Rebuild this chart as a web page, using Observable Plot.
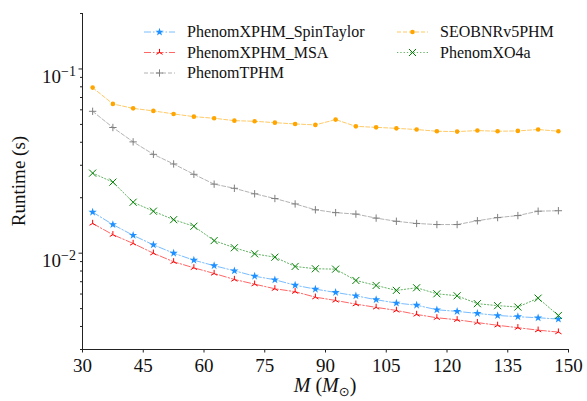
<!DOCTYPE html>
<html><head><meta charset="utf-8">
<script src="https://cdn.jsdelivr.net/npm/d3@7"></script>
<script src="https://cdn.jsdelivr.net/npm/@observablehq/plot@0.6"></script>
<style>
body{margin:0;background:#fff}
#chart{position:relative;width:587px;height:401px}
#chart svg, #chart svg text, #chart svg tspan {font-family: "Liberation Serif", "DejaVu Serif", serif !important;}
#chart svg .sym {font-family: "DejaVu Sans", sans-serif !important;}
</style>
</head><body><div id="chart"></div>
<script>
// ---- data ----
const masses = [32.5, 37.5, 42.5, 47.5, 52.5, 57.5, 62.5, 67.5, 72.5, 77.5, 82.5, 87.5,
                92.5, 97.5, 102.5, 107.5, 112.5, 117.5, 122.5, 127.5, 132.5, 137.5, 142.5, 147.5];
const spinTaylor = [0.0167, 0.0143, 0.0125, 0.0111, 0.0100, 0.00916, 0.00855, 0.00803, 0.00750, 0.00717, 0.00670, 0.00638,
                    0.00612, 0.00587, 0.00559, 0.00536, 0.00522, 0.00493, 0.00483, 0.00471, 0.00459, 0.00452, 0.00446, 0.00439];
const msa = [0.0145, 0.0126, 0.0113, 0.0100, 0.00898, 0.00833, 0.00776, 0.00720, 0.00679, 0.00641, 0.00618, 0.00577,
             0.00554, 0.00529, 0.00508, 0.00489, 0.00465, 0.00446, 0.00435, 0.00420, 0.00406, 0.00394, 0.00382, 0.00373];
const tphm = [0.0589, 0.0481, 0.0402, 0.0344, 0.0305, 0.0268, 0.0237, 0.0225, 0.0210, 0.0198, 0.0185, 0.0172,
              0.0166, 0.0163, 0.0155, 0.0149, 0.0145, 0.0143, 0.0143, 0.0150, 0.0156, 0.0160, 0.0169, 0.0170];
const seobnr = [0.0792, 0.0646, 0.0611, 0.0592, 0.0570, 0.0551, 0.0540, 0.0524, 0.0520, 0.0511, 0.0503, 0.0497,
                0.0531, 0.0488, 0.0482, 0.0476, 0.0469, 0.0459, 0.0457, 0.0463, 0.0459, 0.0461, 0.0469, 0.0459];
const xo4a = [0.0272, 0.0243, 0.0189, 0.0169, 0.0152, 0.0140, 0.0117, 0.0107, 0.00992, 0.00951, 0.00847, 0.00823,
              0.00819, 0.00711, 0.00668, 0.00628, 0.00649, 0.00602, 0.00587, 0.00532, 0.00519, 0.00510, 0.00570, 0.00459];

const xTicks = [30, 45, 60, 75, 90, 105, 120, 135, 150];
const xDomain = [30, 150];
const yDomain = [0.003, 0.2];
const yMajor = [0.01, 0.1];
const yMinor = [0.003, 0.004, 0.005, 0.006, 0.007, 0.008, 0.009,
                0.02, 0.03, 0.04, 0.05, 0.06, 0.07, 0.08, 0.09, 0.2];

// custom tri_up marker (matplotlib "2")
const triUp = {draw(ctx, size) {
  const r = Math.sqrt(size / Math.PI);
  ctx.moveTo(0, 0); ctx.lineTo(0, -r);
  ctx.moveTo(0, 0); ctx.lineTo(-r * 0.866, r * 0.5);
  ctx.moveTo(0, 0); ctx.lineTo(r * 0.866, r * 0.5);
}};

const seriesDefs = [
  {name: "PhenomXPHM_SpinTaylor", values: spinTaylor, color: "#1e90ff", dash: "7,2,1.5,2", symbol: "star", r: 2.6, filled: true},
  {name: "PhenomXPHM_MSA", values: msa, color: "#ff0000", dash: "7,2,1.5,2", symbol: triUp, r: 3.6, filled: false},
  {name: "PhenomTPHM", values: tphm, color: "#808080", dash: "4,2", symbol: "plus", r: 2.5, filled: false},
  {name: "SEOBNRv5PHM", values: seobnr, color: "#ffa500", dash: "4,2", symbol: "circle", r: 2.3, filled: true},
  {name: "PhenomXO4a", values: xo4a, color: "#008000", dash: "1.3,2", symbol: "times", r: 3.3, filled: false}
];

const marks = [];
for (const s of seriesDefs) {
  const rows = masses.map((m, i) => ({mass: m, runtime: s.values[i]}));
  marks.push(Plot.line(rows, {x: "mass", y: "runtime", stroke: s.color, strokeWidth: 1,
    strokeOpacity: 0.6, strokeDasharray: s.dash}));
  marks.push(Plot.dot(rows, {x: "mass", y: "runtime", symbol: s.symbol, r: s.r,
    fill: s.filled ? s.color : "none", stroke: s.filled ? "none" : s.color, strokeWidth: 1}));
}

const fmtY = d => `10|${Math.round(Math.log10(d))}`;

const plot = Plot.plot({
  width: 587, height: 401,
  marginLeft: 82, marginRight: 19, marginTop: 13, marginBottom: 52,
  style: {fontSize: "19px", color: "#111", background: "white"},
  x: {domain: xDomain},
  y: {type: "log", domain: yDomain},
  marks: [
    Plot.axisY(yMinor, {tickSize: 2, tickFormat: () => "", label: null, stroke: "#222"}),
    Plot.axisY(yMajor, {tickSize: 3.5, tickPadding: 3, tickFormat: fmtY, label: null, fontSize: 19, stroke: "#222"}),
    Plot.axisX(xTicks, {tickSize: 3.5, tickPadding: 5, label: null, fontSize: 19, stroke: "#222"}),
    Plot.ruleX([xDomain[0]], {stroke: "#222", strokeWidth: 1}),
    Plot.ruleY([yDomain[0]], {stroke: "#222", strokeWidth: 1}),
    ...marks
  ]
});

document.getElementById("chart").appendChild(plot);
const svg = d3.select(plot);

// superscript tick labels
svg.selectAll('g[aria-label="y-axis tick label"] text').each(function() {
  const t = this.textContent;
  if (!t.includes("|")) return;
  const [base, exp] = t.split("|");
  const el = d3.select(this);
  el.text(null).attr("dy", "0.42em");
  el.append("tspan").text(base);
  el.append("tspan").attr("dy", "-0.5em").attr("font-size", "14px").text("\u2212" + exp.replace("-", ""));
});

// axis labels
const W = 587, H = 401, ml = 82, mr = 19, mt = 13, mb = 52;
const xl = svg.append("text").attr("x", (ml + W - mr) / 2).attr("y", 392)
  .attr("text-anchor", "middle").attr("font-size", 20).attr("fill", "#111");
xl.append("tspan").attr("font-style", "italic").text("M");
xl.append("tspan").text(" (");
xl.append("tspan").attr("font-style", "italic").text("M");
xl.append("tspan").attr("class", "sym").attr("font-size", 13).attr("dy", "4").text("\u2299");
xl.append("tspan").attr("dy", "-4").text(")");

svg.append("text").attr("transform", `translate(25,${(mt + H - mb) / 2}) rotate(-90)`)
  .attr("text-anchor", "middle").attr("font-size", 19).attr("fill", "#111").text("Runtime (s)");

// legend
const leg = svg.append("g").attr("font-size", 16).attr("fill", "#111").attr("text-anchor", "start");
const legPos = [
  {x: 144, y: 32}, {x: 144, y: 52.5}, {x: 144, y: 73}, {x: 397, y: 32}, {x: 397, y: 52.5}
];
seriesDefs.forEach((s, i) => {
  const p = legPos[i];
  const g = leg.append("g").attr("transform", `translate(${p.x},${p.y})`);
  g.append("line").attr("x1", 0).attr("x2", 31).attr("y1", 0).attr("y2", 0)
    .attr("stroke", s.color).attr("stroke-opacity", 0.6).attr("stroke-dasharray", s.dash).attr("stroke-width", 1);
  const symType = typeof s.symbol === "string" ? {star: d3.symbolStar, circle: d3.symbolCircle, plus: d3.symbolPlus, times: d3.symbolTimes}[s.symbol] : s.symbol;
  g.append("path").attr("transform", "translate(15.5,0)")
    .attr("d", d3.symbol(symType, s.r * s.r * Math.PI)())
    .attr("fill", s.filled ? s.color : "none").attr("stroke", s.filled ? "none" : s.color).attr("stroke-width", 1);
  g.append("text").attr("x", 43).attr("dy", "0.33em").attr("text-anchor", "start").text(s.name);
});
</script></body></html>
